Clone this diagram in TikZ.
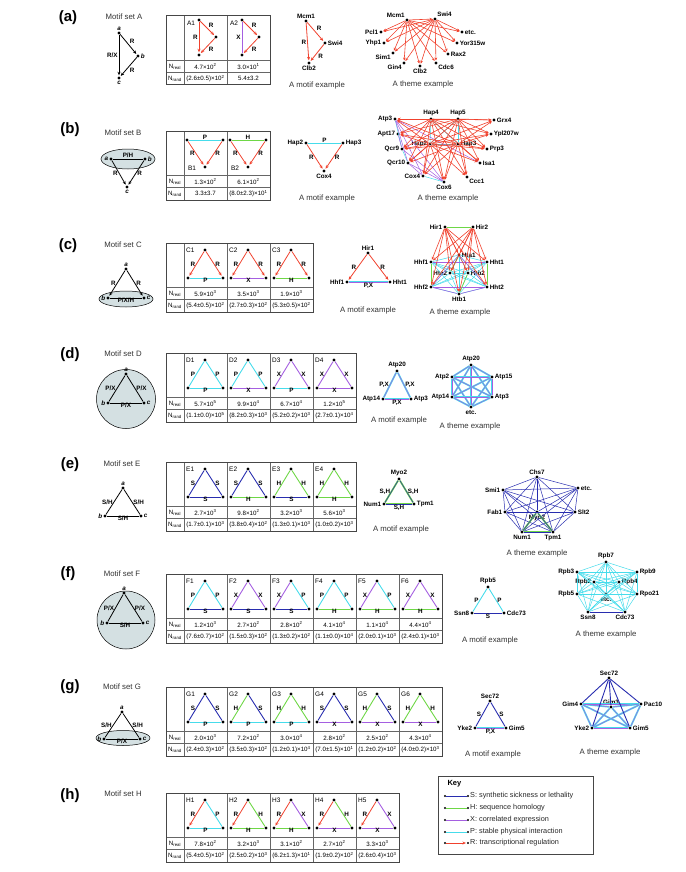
\documentclass[tikz,border=0pt]{standalone}
\usepackage{fontspec}
\setmainfont{Liberation Sans}
\usetikzlibrary{arrows.meta,positioning}

\definecolor{sblue}{RGB}{40,45,175}
\definecolor{hgreen}{RGB}{110,215,70}
\definecolor{xpurple}{RGB}{165,95,225}
\definecolor{pcyan}{RGB}{70,220,235}
\definecolor{rred}{RGB}{240,65,45}
\definecolor{setfill}{RGB}{212,224,226}
\definecolor{framegray}{RGB}{70,70,70}

\newcommand{\genefont}{\fontsize{6.3}{7}\selectfont\bfseries}
\newcommand{\valfont}{\fontsize{6.2}{7}\selectfont}
\newcommand{\tx}[2]{#1×10\textsuperscript{#2}}
\newcommand{\pmx}[3]{(#1±#2)×10\textsuperscript{#3}}

% one motif column of a table: name, x0, y0, left, label, right, label, bottom, label
\newcommand{\tricell}[9]{%
  \node[dot] (#1t) at (#2+21,#3+7) {};
  \node[dot] (#1l) at (#2+4,#3+35) {};
  \node[dot] (#1r) at (#2+39,#3+35) {};
  \node[cellname, anchor=west] (#1n) at (#2+2,#3+7) {#1};
  \draw[#4] (#1t) -- node[elab, left] {#5} (#1l);
  \draw[#6] (#1t) -- node[elab, right] {#7} (#1r);
  \draw[#8] (#1l) -- node[elab, below=-1pt] {#9} (#1r);
}
\newcommand{\cellvals}[5]{%
  \node[val] (#1real) at (#2+21.5,#3+50.5) {#4};
  \node[val] (#1rand) at (#2+21.5,#3+62.5) {#5};
}
\newcommand{\motiftable}[3]{%
  \pgfmathsetmacro{\tabright}{184+43*#3}
  \draw[tabline] (166,#2+44) -- (\tabright,#2+44);
  \draw[tabline] (166,#2+56) -- (\tabright,#2+56);
  \foreach \i in {0,...,#3} \draw[tabline] (184+43*\i,#2) -- (184+43*\i,#2+69);
  \draw[tabframe] (166,#2) rectangle (\tabright,#2+69);
  \node[val] (#1real) at (175,#2+50.5) {N\textsubscript{real}};
  \node[val] (#1rand) at (175,#2+62.5) {N\textsubscript{rand}};
}
\newcommand{\allpairs}[2]{%
  \foreach \a [count=\i] in {#2} {
    \foreach \b [count=\j] in {#2} {
      \ifnum\i<\j \draw[#1] (\a) -- (\b); \fi
    }
  }
}

\begin{document}
\begin{tikzpicture}[x=1pt, y=-1pt,
    dot/.style={circle, fill=black, inner sep=0pt, minimum size=3.4pt},
    gene/.style={font=\genefont, inner sep=0.8pt},
    setlab/.style={font=\fontsize{6.3}{7}\selectfont\bfseries\itshape, inner sep=0.8pt},
    panel/.style={font=\fontsize{15}{15}\selectfont\bfseries},
    settitle/.style={font=\fontsize{7.8}{8}\selectfont, text=black!80},
    caption/.style={font=\fontsize{7.8}{8}\selectfont, text=black!80},
    val/.style={font=\valfont, inner sep=0pt},
    elab/.style={font=\fontsize{6.3}{7}\selectfont\bfseries, inner sep=1pt},
    cellname/.style={font=\fontsize{6.5}{7}\selectfont, inner sep=0pt},
    keytxt/.style={font=\fontsize{7.3}{8}\selectfont, text=black!85, inner sep=1pt},
    tabline/.style={draw=black!60, line width=0.5pt},
    tabframe/.style={draw=framegray, line width=1pt},
    sline/.style={draw=sblue, line width=0.9pt},
    hline/.style={draw=hgreen, line width=0.9pt},
    xline/.style={draw=xpurple, line width=0.9pt},
    pline/.style={draw=pcyan, line width=0.9pt},
    pxline/.style={draw=pcyan, line width=0.6pt, double=xpurple, double distance=0.5pt},
    shline/.style={draw=hgreen, line width=0.6pt, double=sblue, double distance=0.5pt},
    rarrow/.style={draw=rred, line width=0.8pt, -{Stealth[length=3.5pt,width=3pt]}, shorten >=0.8pt},
    rthin/.style={draw=rred, line width=0.6pt, -{Stealth[length=3pt,width=2.6pt]}, shorten >=0.6pt},
    sthin/.style={draw=sblue, line width=0.5pt},
    pthin/.style={draw=pcyan, line width=0.5pt},
    xthin/.style={draw=xpurple, line width=0.5pt},
    hthin/.style={draw=hgreen, line width=0.7pt},
    karrow/.style={draw=black, line width=0.8pt, -{Stealth[length=3.5pt,width=3pt]}, shorten >=0.8pt},
    kline/.style={draw=black, line width=0.8pt},
    setbg/.style={draw=black, line width=0.5pt, fill=setfill},
]
\useasboundingbox (0,0) rectangle (685,872);

%%% (a)
\node[panel] (pa) at (68,18) {(a)};
\node[settitle] (ta) at (124,17) {Motif set A};
\node[dot, label={[setlab]above:a}] (Aa) at (119,33) {};
\node[dot, label={[setlab]right:b}] (Ab) at (138,56) {};
\node[dot, label={[setlab]below:c}] (Ac) at (119,78) {};
\draw[karrow] (Aa) -- node[elab, above right] {R} (Ab);
\draw[karrow] (Ab) -- node[elab, below right] {R} (Ac);
\draw[karrow] (Aa) -- node[elab, left] {R/X} (Ac);

\motiftable{tA}{16}{2}
\node[dot] (A1t) at (199,20) {};
\node[dot] (A1m) at (216,37) {};
\node[dot] (A1b) at (199,55) {};
\node[cellname] (A1n) at (191,23) {A1};
\draw[rarrow] (A1t) -- node[elab, above right] {R} (A1m);
\draw[rarrow] (A1m) -- node[elab, below right] {R} (A1b);
\draw[rarrow] (A1t) -- node[elab, left] {R} (A1b);
\cellvals{A1}{184}{16}{\tx{4.7}{2}}{\pmx{2.6}{0.5}{2}}
\node[dot] (A2t) at (242,20) {};
\node[dot] (A2m) at (259,37) {};
\node[dot] (A2b) at (242,55) {};
\node[cellname] (A2n) at (234,23) {A2};
\draw[rarrow] (A2t) -- node[elab, above right] {R} (A2m);
\draw[rarrow] (A2m) -- node[elab, below right] {R} (A2b);
\draw[xline] (A2t) -- node[elab, left] {X} (A2b);
\cellvals{A2}{227}{16}{\tx{3.0}{1}}{5.4±3.2}

\node[dot, label={[gene]above:Mcm1}] (mcmA) at (306,21) {};
\node[dot, label={[gene]right:Swi4}] (swiA) at (325,43) {};
\node[dot, label={[gene]below:Clb2}] (clbA) at (309,63) {};
\draw[rarrow] (mcmA) -- node[elab, above right] {R} (swiA);
\draw[rarrow] (swiA) -- node[elab, below right] {R} (clbA);
\draw[rarrow] (mcmA) -- node[elab, left] {R} (clbA);
\node[caption] (cmA) at (317,85) {A motif example};

\node[dot, label={[gene]above left:Mcm1}] (mcmT) at (407,20) {};
\node[dot, label={[gene]above right:Swi4}] (swiT) at (435,19) {};
\node[dot, label={[gene]left:Pcl1}] (pcl) at (381,32) {};
\node[dot, label={[gene]left:Yhp1}] (yhp) at (384,43) {};
\node[dot, label={[gene]below left:Sim1}] (sim) at (393,53) {};
\node[dot, label={[gene]below left:Gin4}] (gin) at (404,63) {};
\node[dot, label={[gene]below:Clb2}] (clbT) at (420,66) {};
\node[dot, label={[gene]below right:Cdc6}] (cdc) at (436,63) {};
\node[dot, label={[gene]right:Rax2}] (rax) at (448,54) {};
\node[dot, label={[gene]right:Yor315w}] (yor) at (457,43) {};
\node[dot, label={[gene]right:etc.}] (etcA) at (462,32) {};
\draw[rthin] (mcmT) -- (swiT);
\foreach \s in {mcmT,swiT}
  \foreach \t in {pcl,yhp,sim,gin,clbT,cdc,rax,yor,etcA}
    \draw[rthin] (\s) -- (\t);
\node[caption] (ctA) at (423,84) {A theme example};

%%% (b)
\node[panel] (pb) at (70,130) {(b)};
\node[settitle] (tb) at (123,133) {Motif set B};
\draw[setbg] (128,159) ellipse [x radius=27, y radius=10];
\node[dot, label={[setlab]left:a}] (Ba) at (111,159) {};
\node[dot, label={[setlab]right:b}] (Bb) at (145,159) {};
\node[dot, label={[setlab]below:c}] (Bc) at (127,187) {};
\draw[kline] (Ba) -- node[elab, above] {P/H} (Bb);
\draw[karrow] (Ba) -- node[elab, left] {R} (Bc);
\draw[karrow] (Bb) -- node[elab, right] {R} (Bc);

\motiftable{tB}{131}{2}
\node[dot] (B1l) at (187,140) {};
\node[dot] (B1r) at (223,140) {};
\node[dot] (B1b) at (205,167) {};
\node[cellname] (B1n) at (192,168) {B1};
\draw[pline] (B1l) -- node[elab, above=-1pt] {P} (B1r);
\draw[rarrow] (B1l) -- node[elab, left] {R} (B1b);
\draw[rarrow] (B1r) -- node[elab, right] {R} (B1b);
\cellvals{B1}{184}{131}{\tx{1.3}{2}}{3.3±3.7}
\node[dot] (B2l) at (230,140) {};
\node[dot] (B2r) at (266,140) {};
\node[dot] (B2b) at (248,167) {};
\node[cellname] (B2n) at (235,168) {B2};
\draw[hline] (B2l) -- node[elab, above=-1pt] {H} (B2r);
\draw[rarrow] (B2l) -- node[elab, left] {R} (B2b);
\draw[rarrow] (B2r) -- node[elab, right] {R} (B2b);
\cellvals{B2}{227}{131}{\tx{6.1}{2}}{\pmx{8.0}{2.3}{1}}

\node[dot, label={[gene]left:Hap2}] (hap2B) at (306,143) {};
\node[dot, label={[gene]right:Hap3}] (hap3B) at (343,143) {};
\node[dot, label={[gene]below:Cox4}] (coxB) at (324,171) {};
\draw[pline] (hap2B) -- node[elab, above=-1pt] {P} (hap3B);
\draw[rarrow] (hap2B) -- node[elab, left] {R} (coxB);
\draw[rarrow] (hap3B) -- node[elab, right] {R} (coxB);
\node[caption] (cmB) at (327,198) {A motif example};

\node[dot, label={[gene]left:Atp3}] (atp3) at (395,119) {};
\node[dot, label={[gene]above:Hap4}] (hap4) at (431,119) {};
\node[dot, label={[gene]above:Hap5}] (hap5) at (458,119) {};
\node[dot, label={[gene]right:Grx4}] (grx4) at (494,120) {};
\node[dot, label={[gene]left:Apt17}] (apt17) at (398,134) {};
\node[dot, label={[gene]right:Ypl207w}] (ypl) at (491,134) {};
\node[dot, label={[gene]left:Hap2}] (hap2) at (430,144) {};
\node[dot, label={[gene]right:Hap3}] (hap3) at (458,144) {};
\node[dot, label={[gene]left:Qcr9}] (qcr9) at (402,149) {};
\node[dot, label={[gene]right:Prp3}] (prp3) at (487,149) {};
\node[dot, label={[gene]left:Qcr10}] (qcr10) at (408,163) {};
\node[dot, label={[gene]right:Isa1}] (isa1) at (480,163) {};
\node[dot, label={[gene]left:Cox4}] (cox4) at (423,176) {};
\node[dot, label={[gene]below:Cox6}] (cox6) at (444,182) {};
\node[dot, label={[gene]below right:Ccc1}] (ccc1) at (467,177) {};
\allpairs{pthin}{hap2,hap3,hap4,hap5}
\foreach \a/\b in {atp3/qcr9, cox4/cox6, qcr9/qcr10}
  \draw[pthin] (\a) -- (\b);
\foreach \a/\b in {atp3/cox6, atp3/cox4, atp3/qcr10, qcr9/cox6, qcr10/cox6, qcr10/cox4, atp3/isa1, apt17/qcr9}
  \draw[xthin] (\a) -- (\b);
\foreach \s in {hap2,hap3,hap4,hap5}
  \foreach \t in {atp3,apt17,qcr9,qcr10,cox4,cox6,ccc1,isa1,prp3,ypl,grx4}
    \draw[rthin] (\s) -- (\t);
\node[caption] (ctB) at (448,198) {A theme example};

%%% (c)
\node[panel] (pc) at (68,246) {(c)};
\node[settitle] (tc) at (123,245) {Motif set C};
\draw[setbg] (126,299) ellipse [x radius=27, y radius=8];
\node[dot, label={[setlab]above:a}] (Ca) at (126,269) {};
\node[dot, label={[setlab]left:b}] (Cb) at (108,298) {};
\node[dot, label={[setlab]right:c}] (Cc) at (144,298) {};
\draw[karrow] (Ca) -- node[elab, left] {R} (Cb);
\draw[karrow] (Ca) -- node[elab, right] {R} (Cc);
\draw[kline] (Cb) -- node[elab, below=-1pt] {P/X/H} (Cc);

\motiftable{tC}{243}{3}
\tricell{C1}{184}{243}{rarrow}{R}{rarrow}{R}{pline}{P}
\tricell{C2}{227}{243}{rarrow}{R}{rarrow}{R}{xline}{X}
\tricell{C3}{270}{243}{rarrow}{R}{rarrow}{R}{hline}{H}
\cellvals{C1}{184}{243}{\tx{5.9}{3}}{\pmx{5.4}{0.5}{2}}
\cellvals{C2}{227}{243}{\tx{3.5}{3}}{\pmx{2.7}{0.3}{2}}
\cellvals{C3}{270}{243}{\tx{1.9}{3}}{\pmx{5.3}{0.5}{2}}

\node[dot, label={[gene]above:Hir1}] (hir1C) at (368,253) {};
\node[dot, label={[gene]left:Hhf1}] (hhf1C) at (347,282) {};
\node[dot, label={[gene]right:Hht1}] (hht1C) at (390,282) {};
\draw[rarrow] (hir1C) -- node[elab, left] {R} (hhf1C);
\draw[rarrow] (hir1C) -- node[elab, right] {R} (hht1C);
\draw[pxline] (hhf1C) -- node[elab, below=-0.5pt] {P,X} (hht1C);
\node[caption] (cmC) at (368,310) {A motif example};

\node[dot, label={[gene]left:Hir1}] (hir1) at (445,227) {};
\node[dot, label={[gene]right:Hir2}] (hir2) at (473,227) {};
\node[dot, label={[gene]right:Hta1}] (hta1) at (459,255) {};
\node[dot, label={[gene]left:Hhf1}] (hhf1) at (431,262) {};
\node[dot, label={[gene]right:Hht1}] (hht1) at (487,262) {};
\node[dot, label={[gene]left:Hta2}] (hta2) at (450,273) {};
\node[dot, label={[gene]right:Htb2}] (htb2) at (468,273) {};
\node[dot, label={[gene]left:Hhf2}] (hhf2) at (431,287) {};
\node[dot, label={[gene]right:Hht2}] (hht2) at (487,287) {};
\node[dot, label={[gene]below:Htb1}] (htb1) at (459,294) {};
\allpairs{pthin}{hhf1,hht1,hta1,hta2,htb2,hhf2,hht2,htb1}
\foreach \a/\b in {hhf1/hht1, hhf2/hht2, hhf2/htb1, htb1/hht2, hta1/hhf2, hta1/hht2}
  \draw[xthin] (\a) -- (\b);
\foreach \a/\b in {hir1/hir2, hhf1/hhf2, hht1/hht2, hta1/hta2, htb1/htb2}
  \draw[hthin] (\a) -- (\b);
\foreach \s in {hir1,hir2}
  \foreach \t in {hhf1,hht1,hta1,hta2,htb2,hhf2,hht2,htb1}
    \draw[rthin] (\s) -- (\t);
\node[caption] (ctC) at (460,312) {A theme example};

%%% (d)
\node[panel] (pd) at (70,355) {(d)};
\node[settitle] (td) at (123,354) {Motif set D};
\draw[setbg] (126,399) circle [radius=29.5];
\node[dot, label={[setlab]above:a}] (Da) at (126,374) {};
\node[dot, label={[setlab]left:b}] (Db) at (108,403) {};
\node[dot, label={[setlab]right:c}] (Dc) at (144,403) {};
\draw[kline] (Da) -- node[elab, left] {P/X} (Db);
\draw[kline] (Da) -- node[elab, right] {P/X} (Dc);
\draw[kline] (Db) -- node[elab, below=-1pt] {P/X} (Dc);

\motiftable{tD}{353}{4}
\tricell{D1}{184}{353}{pline}{P}{pline}{P}{pline}{P}
\tricell{D2}{227}{353}{pline}{P}{pline}{P}{xline}{X}
\tricell{D3}{270}{353}{xline}{X}{xline}{X}{pline}{P}
\tricell{D4}{313}{353}{xline}{X}{xline}{X}{xline}{X}
\cellvals{D1}{184}{353}{\tx{5.7}{5}}{\pmx{1.1}{0.0}{5}}
\cellvals{D2}{227}{353}{\tx{9.9}{4}}{\pmx{8.2}{0.3}{3}}
\cellvals{D3}{270}{353}{\tx{6.7}{4}}{\pmx{5.2}{0.2}{3}}
\cellvals{D4}{313}{353}{\tx{1.2}{5}}{\pmx{2.7}{0.1}{4}}

\node[dot, label={[gene]above:Atp20}] (atp20D) at (397,371) {};
\node[dot, label={[gene]left:Atp14}] (atp14D) at (383,399) {};
\node[dot, label={[gene]right:Atp3}] (atp3D) at (411,399) {};
\draw[pxline] (atp20D) -- node[elab, left] {P,X} (atp14D);
\draw[pxline] (atp20D) -- node[elab, right] {P,X} (atp3D);
\draw[pxline] (atp14D) -- node[elab, below=-0.5pt] {P,X} (atp3D);
\node[caption] (cmD) at (399,420) {A motif example};

\node[dot, label={[gene]above:Atp20}] (atp20) at (471,365) {};
\node[dot, label={[gene]left:Atp2}] (atp2) at (452,377) {};
\node[dot, label={[gene]right:Atp15}] (atp15) at (492,377) {};
\node[dot, label={[gene]left:Atp14}] (atp14) at (452,397) {};
\node[dot, label={[gene]right:Atp3}] (atp3) at (492,397) {};
\node[dot, label={[gene]below:etc.}] (etcD) at (471,407) {};
\allpairs{pxline}{atp20,atp2,atp15,atp14,atp3,etcD}
\node[caption] (ctD) at (470,426) {A theme example};

%%% (e)
\node[panel] (pe) at (70,465) {(e)};
\node[settitle] (te) at (122,464) {Motif set E};
\node[dot, label={[setlab]above:a}] (Ea) at (123,488) {};
\node[dot, label={[setlab]left:b}] (Eb) at (105,516) {};
\node[dot, label={[setlab]right:c}] (Ec) at (141,516) {};
\draw[kline] (Ea) -- node[elab, left] {S/H} (Eb);
\draw[kline] (Ea) -- node[elab, right] {S/H} (Ec);
\draw[kline] (Eb) -- node[elab, below=-1pt] {S/H} (Ec);

\motiftable{tE}{462}{4}
\tricell{E1}{184}{462}{sline}{S}{sline}{S}{sline}{S}
\tricell{E2}{227}{462}{sline}{S}{sline}{S}{hline}{H}
\tricell{E3}{270}{462}{hline}{H}{hline}{H}{sline}{S}
\tricell{E4}{313}{462}{hline}{H}{hline}{H}{hline}{H}
\cellvals{E1}{184}{462}{\tx{2.7}{3}}{\pmx{1.7}{0.1}{3}}
\cellvals{E2}{227}{462}{\tx{9.8}{2}}{\pmx{3.8}{0.4}{2}}
\cellvals{E3}{270}{462}{\tx{3.2}{3}}{\pmx{1.3}{0.1}{3}}
\cellvals{E4}{313}{462}{\tx{5.6}{3}}{\pmx{1.0}{0.2}{3}}

\node[dot, label={[gene]above:Myo2}] (myoE) at (399,479) {};
\node[dot, label={[gene]left:Num1}] (numE) at (384,504) {};
\node[dot, label={[gene]right:Tpm1}] (tpmE) at (414,504) {};
\draw[shline] (myoE) -- node[elab, left] {S,H} (numE);
\draw[shline] (myoE) -- node[elab, right] {S,H} (tpmE);
\draw[shline] (numE) -- node[elab, below=-0.5pt] {S,H} (tpmE);
\node[caption] (cmE) at (401,529) {A motif example};

\node[dot, label={[gene]above:Chs7}] (chs7) at (537,477) {};
\node[dot, label={[gene]left:Smi1}] (smi1) at (503,490) {};
\node[dot, label={[gene]right:etc.}] (etcE) at (578,488) {};
\node[dot, label={[gene]left:Fab1}] (fab1) at (505,512) {};
\node[dot, label={[gene]below:Myo2}] (myo2) at (537,512) {};
\node[dot, label={[gene]right:Slt2}] (slt2) at (575,512) {};
\node[dot, label={[gene]below:Num1}] (num1) at (522,532) {};
\node[dot, label={[gene]below:Tpm1}] (tpm1) at (553,532) {};
\allpairs{sthin}{chs7,smi1,etcE,fab1,myo2,slt2,num1,tpm1}
\foreach \a/\b in {myo2/num1, myo2/tpm1, num1/tpm1}
  \draw[shline] (\a) -- (\b);
\node[caption] (ctE) at (537,553) {A theme example};

%%% (f)
\node[panel] (pf) at (68,574) {(f)};
\node[settitle] (tf) at (122,574) {Motif set F};
\draw[setbg] (126,620) circle [radius=29];
\node[dot, label={[setlab]above:a}] (Fa) at (124,593) {};
\node[dot, label={[setlab]left:b}] (Fb) at (107,623) {};
\node[dot, label={[setlab]right:c}] (Fc) at (143,623) {};
\draw[kline] (Fa) -- node[elab, left] {P/X} (Fb);
\draw[kline] (Fa) -- node[elab, right] {P/X} (Fc);
\draw[kline] (Fb) -- node[elab, below=-1pt] {S/H} (Fc);

\motiftable{tF}{574}{6}
\tricell{F1}{184}{574}{pline}{P}{pline}{P}{sline}{S}
\tricell{F2}{227}{574}{xline}{X}{xline}{X}{sline}{S}
\tricell{F3}{270}{574}{xline}{X}{pline}{P}{sline}{S}
\tricell{F4}{313}{574}{pline}{P}{pline}{P}{hline}{H}
\tricell{F5}{356}{574}{xline}{X}{pline}{P}{hline}{H}
\tricell{F6}{399}{574}{xline}{X}{xline}{X}{hline}{H}
\cellvals{F1}{184}{574}{\tx{1.2}{3}}{\pmx{7.6}{0.7}{2}}
\cellvals{F2}{227}{574}{\tx{2.7}{2}}{\pmx{1.5}{0.3}{2}}
\cellvals{F3}{270}{574}{\tx{2.8}{2}}{\pmx{1.3}{0.2}{2}}
\cellvals{F4}{313}{574}{\tx{4.1}{4}}{\pmx{1.1}{0.0}{4}}
\cellvals{F5}{356}{574}{\tx{1.1}{4}}{\pmx{2.0}{0.1}{3}}
\cellvals{F6}{399}{574}{\tx{4.4}{4}}{\pmx{2.4}{0.1}{3}}

\node[dot, label={[gene]above:Rpb5}] (rpb5F) at (488,587) {};
\node[dot, label={[gene]left:Ssn8}] (ssnF) at (472,613) {};
\node[dot, label={[gene]right:Cdc73}] (cdcF) at (504,613) {};
\draw[pline] (rpb5F) -- node[elab, left] {P} (ssnF);
\draw[pline] (rpb5F) -- node[elab, right] {P} (cdcF);
\draw[sline] (ssnF) -- node[elab, below=-0.5pt] {S} (cdcF);
\node[caption] (cmF) at (490,640) {A motif example};

\node[dot, label={[gene]above:Rpb7}] (rpb7) at (606,562) {};
\node[dot, label={[gene]left:Rpb3}] (rpb3) at (577,572) {};
\node[dot, label={[gene]right:Rpb9}] (rpb9) at (637,572) {};
\node[dot, label={[gene]left:Rpb2}] (rpb2) at (594,582) {};
\node[dot, label={[gene]right:Rpb4}] (rpb4) at (619,582) {};
\node[dot, label={[gene]left:Rpb5}] (rpb5) at (577,594) {};
\node[dot, label={[gene]right:Rpo21}] (rpo21) at (637,594) {};
\node[dot, label={[gene]below:etc.}] (etcF) at (606,594) {};
\node[dot, label={[gene]below:Ssn8}] (ssn8) at (588,612) {};
\node[dot, label={[gene]below:Cdc73}] (cdc73) at (625,612) {};
\allpairs{pthin}{rpb7,rpb3,rpb9,rpb2,rpb4,rpb5,rpo21,etcF,ssn8,cdc73}
\draw[sthin] (ssn8) -- (cdc73);
\node[caption] (ctF) at (606,634) {A theme example};

%%% (g)
\node[panel] (pg) at (70,687) {(g)};
\node[settitle] (tg) at (122,687) {Motif set G};
\draw[setbg] (123,738) ellipse [x radius=27, y radius=7.5];
\node[dot, label={[setlab]above:a}] (Ga) at (122,712) {};
\node[dot, label={[setlab]left:b}] (Gb) at (104,739) {};
\node[dot, label={[setlab]right:c}] (Gc) at (140,739) {};
\draw[kline] (Ga) -- node[elab, left] {S/H} (Gb);
\draw[kline] (Ga) -- node[elab, right] {S/H} (Gc);
\draw[kline] (Gb) -- node[elab, below=-1pt] {P/X} (Gc);

\motiftable{tG}{687}{6}
\tricell{G1}{184}{687}{sline}{S}{sline}{S}{pline}{P}
\tricell{G2}{227}{687}{hline}{H}{sline}{S}{pline}{P}
\tricell{G3}{270}{687}{hline}{H}{hline}{H}{pline}{P}
\tricell{G4}{313}{687}{sline}{S}{sline}{S}{xline}{X}
\tricell{G5}{356}{687}{hline}{H}{sline}{S}{xline}{X}
\tricell{G6}{399}{687}{hline}{H}{hline}{H}{xline}{X}
\cellvals{G1}{184}{687}{\tx{2.0}{3}}{\pmx{2.4}{0.3}{2}}
\cellvals{G2}{227}{687}{\tx{7.2}{2}}{\pmx{3.5}{0.3}{2}}
\cellvals{G3}{270}{687}{\tx{3.0}{4}}{\pmx{1.2}{0.1}{4}}
\cellvals{G4}{313}{687}{\tx{2.8}{2}}{\pmx{7.0}{1.5}{1}}
\cellvals{G5}{356}{687}{\tx{2.5}{2}}{\pmx{1.2}{0.2}{2}}
\cellvals{G6}{399}{687}{\tx{4.3}{4}}{\pmx{4.0}{0.2}{3}}

\node[dot, label={[gene]above:Sec72}] (secG) at (490,701) {};
\node[dot, label={[gene]left:Yke2}] (ykeG) at (475,728) {};
\node[dot, label={[gene]right:Gim5}] (gimG) at (506,728) {};
\draw[sline] (secG) -- node[elab, left] {S} (ykeG);
\draw[sline] (secG) -- node[elab, right] {S} (gimG);
\draw[pxline] (ykeG) -- node[elab, below=-0.5pt] {P,X} (gimG);
\node[caption] (cmG) at (493,754) {A motif example};

\node[dot, label={[gene]above:Sec72}] (sec72) at (609,678) {};
\node[dot, label={[gene]left:Gim4}] (gim4) at (581,704) {};
\node[dot, label={[gene]above:Gim3}] (gim3) at (611,707) {};
\node[dot, label={[gene]right:Pac10}] (pac10) at (641,704) {};
\node[dot, label={[gene]left:Yke2}] (yke2) at (592,728) {};
\node[dot, label={[gene]right:Gim5}] (gim5) at (630,728) {};
\allpairs{pxline}{gim4,gim3,pac10,yke2,gim5}
\foreach \t in {gim4,gim3,pac10,yke2,gim5}
  \draw[sline] (sec72) -- (\t);
\node[caption] (ctG) at (610,752) {A theme example};

%%% (h)
\node[panel] (ph) at (70,796) {(h)};
\node[settitle] (th) at (123,794) {Motif set H};
\motiftable{tH}{793}{5}
\tricell{H1}{184}{793}{rarrow}{R}{pline}{P}{pline}{P}
\tricell{H2}{227}{793}{rarrow}{R}{hline}{H}{hline}{H}
\tricell{H3}{270}{793}{rarrow}{R}{xline}{X}{hline}{H}
\tricell{H4}{313}{793}{rarrow}{R}{hline}{H}{xline}{X}
\tricell{H5}{356}{793}{rarrow}{R}{xline}{X}{xline}{X}
\cellvals{H1}{184}{793}{\tx{7.8}{2}}{\pmx{5.4}{0.5}{2}}
\cellvals{H2}{227}{793}{\tx{3.2}{3}}{\pmx{2.5}{0.2}{3}}
\cellvals{H3}{270}{793}{\tx{3.1}{2}}{\pmx{6.2}{1.3}{1}}
\cellvals{H4}{313}{793}{\tx{2.7}{2}}{\pmx{1.9}{0.2}{2}}
\cellvals{H5}{356}{793}{\tx{3.3}{3}}{\pmx{2.6}{0.4}{3}}

% key
\draw[draw=framegray, line width=0.7pt] (438,776) rectangle (593,854);
\node[font=\fontsize{7.5}{8}\selectfont\bfseries, anchor=west] (keyT) at (444,784) {Key};
\foreach \c/\y/\t [count=\k] in {sblue/796/{S: synthetic sickness or lethality},
    hgreen/808/{H: sequence homology}, xpurple/820/{X: correlated expression},
    pcyan/832/{P: stable physical interaction}} {
  \node[dot, minimum size=2.2pt] (kl\k) at (445,\y) {};
  \node[dot, minimum size=2.2pt] (kr\k) at (468,\y) {};
  \draw[draw=\c, line width=0.9pt] (kl\k) -- (kr\k);
  \node[keytxt, anchor=west] (kt\k) at (469,\y) {\t};
}
\node[dot, minimum size=2.2pt] (kl5) at (445,843) {};
\node[dot, minimum size=2.2pt] (kr5) at (468,843) {};
\draw[rarrow, line width=0.7pt] (kl5) -- (kr5);
\node[keytxt, anchor=west] (kt5) at (469,843) {R: transcriptional regulation};
\end{tikzpicture}
\end{document}
